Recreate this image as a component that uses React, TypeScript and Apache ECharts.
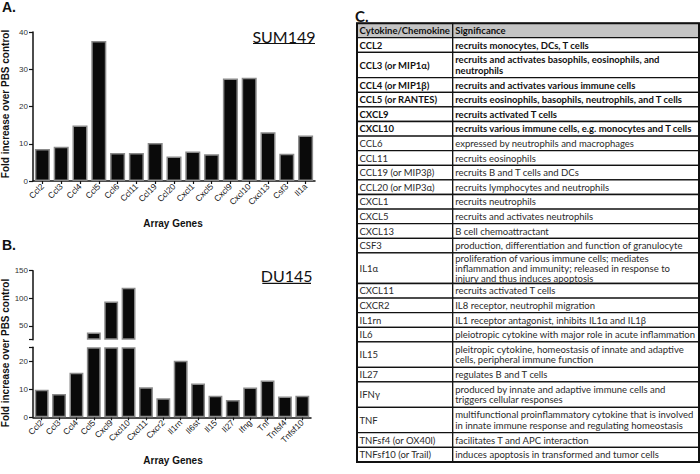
import React, { useEffect, useRef } from 'react';
import * as echarts from 'echarts';

// ---------- Data ----------
const genesA = ['Ccl2', 'Ccl3', 'Ccl4', 'Ccl5', 'Ccl6', 'Ccl11', 'Ccl19', 'Ccl20', 'Cxcl1', 'Cxcl5', 'Cxcl9', 'Cxcl10', 'Cxcl13', 'Csf3', 'Il1a'];
const foldA = [8.6, 9.2, 14.9, 37.6, 7.5, 7.5, 10.2, 6.6, 7.9, 7.2, 27.5, 27.7, 13.1, 7.3, 12.2];

const genesB = ['Ccl2', 'Ccl3', 'Ccl4', 'Ccl5', 'Cxcl9', 'Cxcl10', 'Cxcl11', 'Cxcr2', 'Il1rn', 'Il6st', 'Il15', 'Il27', 'Ifng', 'Tnf', 'Tnfsf4', 'Tnfsf10'];
const foldB = [9.8, 8.3, 15.9, 38, 94, 119, 10.7, 6.8, 20.2, 12.1, 7.7, 6.2, 10.6, 13.1, 7.4, 7.7];

const ticksA = [0, 10, 20, 30, 40];
const ticksBLow = [0, 10, 20];
const ticksBHigh = [50, 100, 150];
const breakValue = 25;
const maxA = 40;
const maxB = 150;

const yTitle = 'Fold increase over PBS control';
const xTitle = 'Array Genes';
const titleA = 'SUM149';
const titleB = 'DU145';

const tableHeader = ['Cytokine/Chemokine', 'Significance'];
const cytokines = [
  'CCL2', 'CCL3 (or MIP1α)', 'CCL4 (or MIP1β)', 'CCL5 (or RANTES)', 'CXCL9', 'CXCL10',
  'CCL6', 'CCL11', 'CCL19 (or MIP3β)', 'CCL20 (or MIP3α)', 'CXCL1', 'CXCL5', 'CXCL13', 'CSF3',
  'IL1α', 'CXCL11', 'CXCR2', 'IL1rn', 'IL6', 'IL15', 'IL27', 'IFNγ', 'TNF', 'TNFsf4 (or OX40l)', 'TNFsf10 (or Trail)',
];
const significance = [
  'recruits monocytes, DCs, T cells',
  'recruits and activates basophils, eosinophils, and\nneutrophils',
  'recruits and activates various immune cells',
  'recruits eosinophils, basophils, neutrophils, and T cells',
  'recruits activated T cells',
  'recruits various immune cells, e.g. monocytes and T cells',
  'expressed by neutrophils and macrophages',
  'recruits eosinophils',
  'recruits B and T cells and DCs',
  'recruits lymphocytes and neutrophils',
  'recruits neutrophils',
  'recruits and activates neutrophils',
  'B cell chemoattractant',
  'production, differentiation and function of granulocyte',
  'proliferation of various immune cells; mediates\ninflammation and immunity; released in response to\ninjury and thus induces apoptosis',
  'recruits activated T cells',
  'IL8 receptor, neutrophil migration',
  'IL1 receptor antagonist, inhibits IL1α and IL1β',
  'pleiotropic cytokine with major role in acute inflammation',
  'pleitropic cytokine, homeostasis of innate and adaptive\ncells, peripheral immune function',
  'regulates B and T cells',
  'produced by innate and adaptive immune cells and\ntriggers cellular responses',
  'multifunctional proinflammatory cytokine that is involved\nin innate immune response and regulating homeostasis',
  'facilitates T and APC interaction',
  'induces apoptosis in transformed and tumor cells',
];
const boldRows = [true, true, true, true, true, true, false, false, false, false, false, false, false, false, false, false, false, false, false, false, false, false, false, false, false];

// ---------- Styling ----------
const ARIAL = 'Arial, "Liberation Sans", sans-serif';
const HUMAN = 'Lato, "Open Sans", sans-serif';
const axisLine = { show: true, lineStyle: { color: '#111', width: 1.5 } };
const axisTickY = { show: true, length: 4, inside: false, lineStyle: { color: '#111', width: 1.2 } };
const yLabel = { fontSize: 8, color: '#333', fontFamily: ARIAL, margin: 5 };
const xLabel = { rotate: 45, fontSize: 8.5, color: '#222', fontFamily: ARIAL, margin: 4, interval: 0 };
const barItem = { color: '#0a0a0a', borderColor: '#8a8a8a', borderWidth: 1.5 };

function txt(text: string, x: number, y: number, o: any = {}) {
  const align = o.align || 'left';
  const valign = o.valign || 'middle';
  return {
    type: 'text',
    x,
    y,
    rotation: o.rotation || 0,
    silent: true,
    style: {
      text,
      fill: o.fill || '#111',
      fontSize: o.size || 10,
      fontWeight: o.weight || 'normal',
      fontFamily: o.family || ARIAL,
      textAlign: align,
      align,
      textVerticalAlign: valign,
      verticalAlign: valign,
      lineHeight: o.lineHeight,
    },
  };
}

function buildTable() {
  const left = 357;
  const divider = 452.7;
  const right = 699;
  const top = 23.3;
  const headerH = 14.4;
  const heightFor = (n: number) => (n === 1 ? 14.6 : n === 2 ? 25.4 : 30.6);
  const els: any[] = [];
  const cell = (x: number, y: number, w: number, h: number, fill: string) => ({
    type: 'rect',
    silent: true,
    shape: { x, y, width: w, height: h },
    style: { fill, stroke: '#111', lineWidth: 1.3 },
  });
  els.push(cell(left, top, divider - left, headerH, '#c4c4c4'));
  els.push(cell(divider, top, right - divider, headerH, '#c4c4c4'));
  els.push(txt(tableHeader[0], left + 2.5, top + headerH / 2, { size: 9.5, weight: 'bold', family: HUMAN, fill: '#111' }));
  els.push(txt(tableHeader[1], divider + 2.5, top + headerH / 2, { size: 9.5, weight: 'bold', family: HUMAN, fill: '#111' }));
  let y = top + headerH;
  cytokines.forEach((name, i) => {
    const sig = significance[i];
    const n = sig.split('\n').length;
    const h = heightFor(n);
    const bold = boldRows[i];
    els.push(cell(left, y, divider - left, h, '#fff'));
    els.push(cell(divider, y, right - divider, h, '#fff'));
    const o = { size: 9.5, weight: bold ? 'bold' : 'normal', family: HUMAN, fill: bold ? '#111' : '#2a2a2a', lineHeight: 10.2 };
    els.push(txt(name, left + 2.5, y + h / 2, o));
    els.push(txt(sig, divider + 2.5, y + h / 2, o));
    y += h;
  });
  els.push({
    type: 'rect',
    silent: true,
    shape: { x: left, y: top, width: right - left, height: y - top },
    style: { fill: 'none', stroke: '#111', lineWidth: 2 },
  });
  return els;
}

function buildOption(): any {
  const upperTop = foldB.map((v) => (v > breakValue ? v - breakValue : '-'));
  const upperBase = foldB.map((v) => (v > breakValue ? breakValue : '-'));
  const lower = foldB.map((v) => Math.min(v, breakValue));

  return {
    animation: false,
    backgroundColor: '#fff',
    grid: [
      { left: 33, top: 32, width: 282, height: 149 },
      { left: 33, top: 270.7, width: 278, height: 69 },
      { left: 33, top: 347.3, width: 278, height: 70 },
    ],
    xAxis: [
      {
        gridIndex: 0, type: 'category', data: genesA, axisLine,
        axisTick: { show: true, alignWithLabel: true, length: 3, lineStyle: { color: '#111', width: 1.2 } },
        axisLabel: xLabel,
      },
      { gridIndex: 1, type: 'category', data: genesB, show: false },
      {
        gridIndex: 2, type: 'category', data: genesB, axisLine,
        axisTick: { show: true, alignWithLabel: true, length: 3, lineStyle: { color: '#111', width: 1.2 } },
        axisLabel: xLabel,
      },
    ],
    yAxis: [
      {
        gridIndex: 0, type: 'value', min: ticksA[0], max: maxA, interval: 10,
        axisLine, axisTick: axisTickY, axisLabel: yLabel, splitLine: { show: false },
      },
      {
        gridIndex: 1, type: 'value', min: breakValue, max: maxB,
        axisLine,
        axisTick: { ...axisTickY, customValues: [breakValue, ...ticksBHigh] },
        axisLabel: { ...yLabel, customValues: ticksBHigh },
        splitLine: { show: false },
      },
      {
        gridIndex: 2, type: 'value', min: 0, max: breakValue,
        axisLine,
        axisTick: { ...axisTickY, customValues: [...ticksBLow, breakValue] },
        axisLabel: { ...yLabel, customValues: ticksBLow },
        splitLine: { show: false },
      },
    ],
    series: [
      { type: 'bar', xAxisIndex: 0, yAxisIndex: 0, data: foldA, barCategoryGap: '20%', itemStyle: barItem, silent: true },
      {
        type: 'bar', xAxisIndex: 1, yAxisIndex: 1, data: upperBase, stack: 'brk', barCategoryGap: '20%',
        itemStyle: { color: 'rgba(0,0,0,0)', borderWidth: 0 }, silent: true,
      },
      { type: 'bar', xAxisIndex: 1, yAxisIndex: 1, data: upperTop, stack: 'brk', barCategoryGap: '20%', itemStyle: barItem, silent: true },
      { type: 'bar', xAxisIndex: 2, yAxisIndex: 2, data: lower, barCategoryGap: '20%', itemStyle: barItem, silent: true },
    ],
    graphic: [
      txt('A.', 2, 7, { size: 14, weight: 'bold' }),
      txt('B.', 2, 244.5, { size: 14, weight: 'bold' }),
      txt('C.', 355, 15.5, { size: 15, weight: 'bold', family: HUMAN }),
      txt(titleA, 284, 36.4, { size: 16, family: HUMAN, align: 'center' }),
      { type: 'line', silent: true, shape: { x1: 253, y1: 43.5, x2: 315, y2: 43.5 }, style: { stroke: '#111', lineWidth: 1.2 } },
      txt(titleB, 286.7, 275, { size: 16, family: HUMAN, align: 'center' }),
      { type: 'line', silent: true, shape: { x1: 262.3, y1: 283.3, x2: 311, y2: 283.3 }, style: { stroke: '#111', lineWidth: 1.2 } },
      txt(yTitle, 5.5, 104, { size: 10, weight: 'bold', align: 'center', rotation: Math.PI / 2 }),
      txt(yTitle, 5.5, 353, { size: 10, weight: 'bold', align: 'center', rotation: Math.PI / 2 }),
      txt(xTitle, 173, 223, { size: 10, weight: 'bold', align: 'center' }),
      txt(xTitle, 173, 460.7, { size: 10, weight: 'bold', align: 'center' }),
      ...buildTable(),
    ],
  };
}

export default function App() {
  const ref = useRef<HTMLDivElement>(null);
  useEffect(() => {
    if (!ref.current) return;
    const chart = echarts.init(ref.current, null, { renderer: 'svg' });
    chart.setOption(buildOption());
    return () => chart.dispose();
  }, []);
  return (
    <div
      ref={ref}
      style={{ position: 'fixed', left: 0, top: 0, width: 700, height: 474, background: '#fff' }}
    />
  );
}
